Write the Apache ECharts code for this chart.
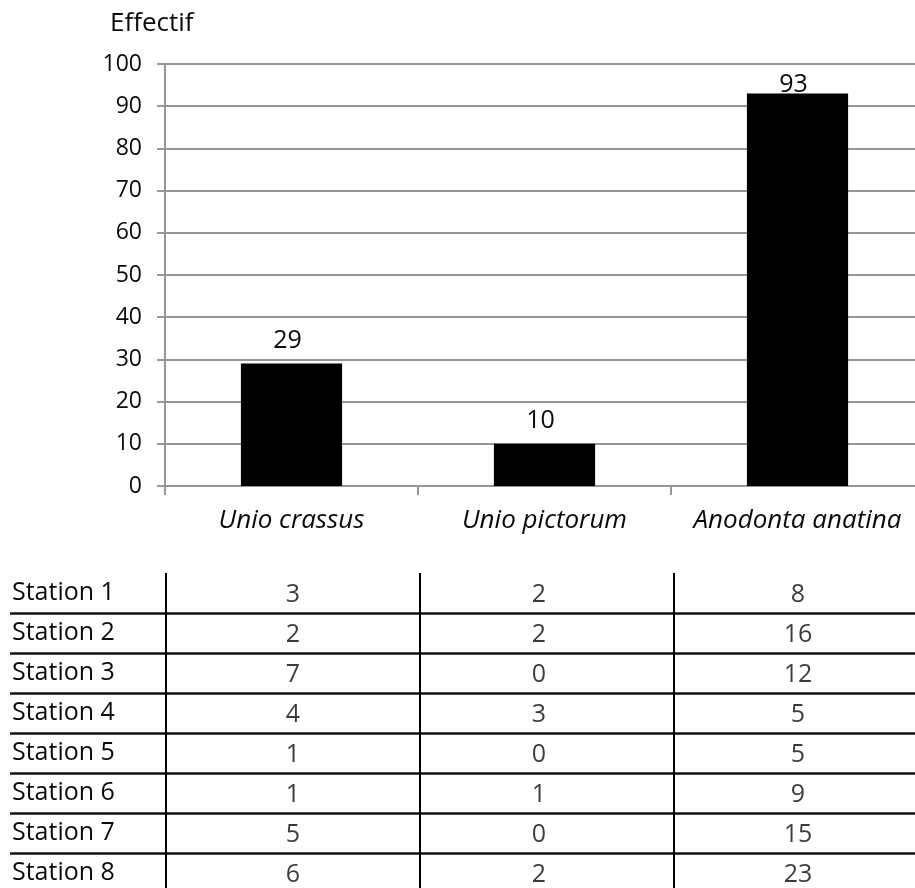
<!DOCTYPE html>
<html>
<head>
<meta charset="utf-8">
<title>Effectif par espèce</title>
<script src="https://cdn.jsdelivr.net/npm/echarts@6/dist/echarts.min.js"></script>
<style>
  html, body { margin: 0; padding: 0; background: #fff; }
  #chart { width: 915px; height: 888px; }
</style>
</head>
<body>
<div id="chart"></div>
<script>
// Species and total counts
const species = ['Unio crassus', 'Unio pictorum', 'Anodonta anatina'];
const totals = [29, 10, 93];

// Per-station counts, one array per species
const stations = ['Station 1', 'Station 2', 'Station 3', 'Station 4',
                  'Station 5', 'Station 6', 'Station 7', 'Station 8'];
const unioCrassus = [3, 2, 7, 4, 1, 1, 5, 6];
const unioPictorum = [2, 2, 0, 3, 0, 1, 0, 2];
const anodontaAnatina = [8, 16, 12, 5, 5, 9, 15, 23];

// Y axis ticks
const yMin = 0, yMax = 100, yStep = 10;

const FONT = '"Open Sans", "Noto Sans", sans-serif';
const TEXT = '#0a0a0a';
const GRID_GRAY = '#969696';

const columns = [unioCrassus, unioPictorum, anodontaAnatina];
const columnOffsets = [[0, 2], [-8, 2], [-3, 2]];

// One scatter series per table column: invisible points carrying the cell text
const tableSeries = columns.map((col, c) => ({
  type: 'scatter',
  xAxisIndex: 1,
  yAxisIndex: 1,
  symbolSize: 1,
  itemStyle: { color: 'transparent' },
  silent: true,
  label: {
    show: true,
    position: 'inside',
    offset: columnOffsets[c],
    color: TEXT,
    fontFamily: FONT,
    fontSize: 25,
    formatter: p => String(p.value[2])
  },
  data: col.map((v, r) => [species[c], stations[r], v])
}));

// The tallest bar's label is kept inside the plot area
const barData = totals.map(v => (v > 90 ? { value: v, label: { distance: -4 } } : v));

const option = {
  animation: false,
  title: {
    text: 'Effectif',
    left: 105,
    top: 6,
    textStyle: { fontFamily: FONT, fontSize: 26, fontWeight: 'normal', color: TEXT }
  },
  grid: [
    { left: 165, top: 64, width: 759, height: 422, outerBoundsMode: 'none' },
    { left: 166, top: 573, width: 762, height: 320, outerBoundsMode: 'none' }
  ],
  xAxis: [
    {
      type: 'category',
      gridIndex: 0,
      data: species,
      axisLine: { lineStyle: { color: GRID_GRAY, width: 2 } },
      axisTick: { show: true, length: 9, lineStyle: { color: GRID_GRAY, width: 2 } },
      axisLabel: {
        color: TEXT, fontFamily: FONT, fontSize: 26,
        fontStyle: 'italic', margin: 22, interval: 0
      }
    },
    {
      type: 'category',
      gridIndex: 1,
      data: species,
      axisLine: { show: false },
      axisTick: { show: false },
      axisLabel: { show: false },
      splitLine: { show: true, interval: 0, lineStyle: { color: '#000', width: 2 } }
    }
  ],
  yAxis: [
    {
      type: 'value',
      gridIndex: 0,
      min: yMin,
      max: yMax,
      interval: yStep,
      axisLine: { show: true, lineStyle: { color: GRID_GRAY, width: 2 } },
      axisTick: { show: true, length: 8, lineStyle: { color: GRID_GRAY, width: 2 } },
      splitLine: { show: true, lineStyle: { color: GRID_GRAY, width: 2 } },
      axisLabel: { color: TEXT, fontFamily: FONT, fontSize: 23, margin: 23 }
    },
    {
      type: 'category',
      gridIndex: 1,
      inverse: true,
      data: stations,
      axisLine: { show: false },
      axisTick: {
        show: true, length: 156, interval: i => i > 0,
        lineStyle: { color: '#111', width: 2.5 }
      },
      splitLine: {
        show: true, interval: i => i > 0,
        lineStyle: { color: '#111', width: 2.5 }
      },
      axisLabel: {
        color: TEXT, fontFamily: FONT, fontSize: 25,
        align: 'left', margin: 154, interval: 0,
        padding: [0, 0, 4, 0]
      }
    }
  ],
  series: [
    {
      type: 'bar',
      xAxisIndex: 0,
      yAxisIndex: 0,
      barWidth: '40%',
      itemStyle: { color: '#000' },
      label: {
        show: true,
        position: 'top',
        distance: 10,
        offset: [-4, 0],
        color: TEXT,
        fontFamily: FONT,
        fontSize: 25
      },
      data: barData
    },
    ...tableSeries
  ]
};

const chart = echarts.init(document.getElementById('chart'), null, { renderer: 'canvas' });
chart.setOption(option);
</script>
</body>
</html>
